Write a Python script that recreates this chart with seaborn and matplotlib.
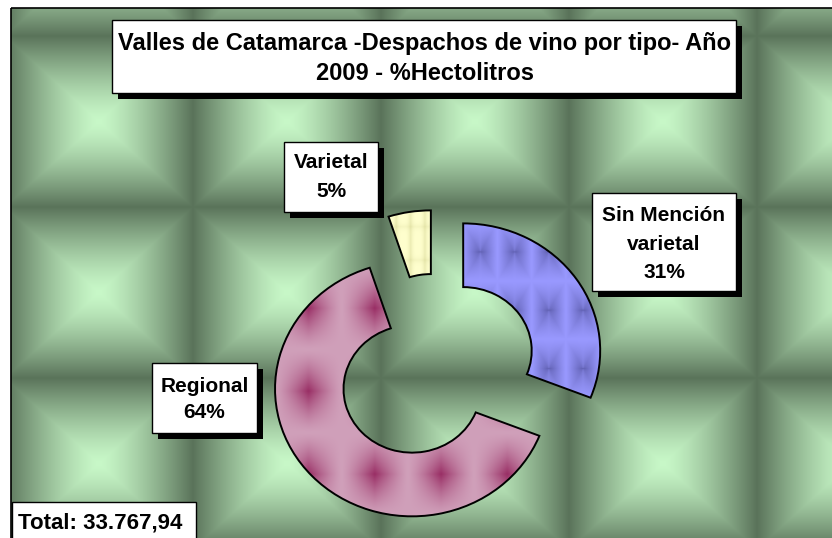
import textwrap
import numpy as np
import pandas as pd
import matplotlib
matplotlib.use("Agg")
import matplotlib.pyplot as plt
import seaborn as sns
from matplotlib.patches import Rectangle, PathPatch

# ---------------- data ----------------
categories = ["Sin Mención varietal", "Regional", "Varietal"]
shares = [31, 64, 5]
title_lines = ["Valles de Catamarca -Despachos de vino por tipo- Año",
               "2009 - %Hectolitros"]
total_label = "Total: 33.767,94"

# ---------------- style ----------------
slice_base = [(153, 153, 255), (208, 160, 186), (255, 255, 206)]
slice_dark = [(92, 92, 172), (150, 40, 96), (222, 222, 160)]
bg_light = np.array([200, 248, 200]) / 255
bg_dark = np.array([90, 115, 90]) / 255

W, H = 832, 538
sns.set_theme(style="white")
plt.rcParams['font.family'] = ['Liberation Sans', 'DejaVu Sans']

df = pd.DataFrame({"cat": categories, "share": shares})

fig = plt.figure(figsize=(W / 100, H / 100), dpi=100)
fig.patch.set_facecolor("white")

# ---------------- background (bottom axes, pixel coords) ----------------
axb = fig.add_axes([0, 0, 1, 1], zorder=0)
axb.axis("off")
yy, xx = np.mgrid[0:H, 0:W] + 0.5
tw, th = 188.0, 171.0
ox, oy = 5.0, 36.0
u = ((xx - ox) % tw) / tw * 2 - 1
v = ((yy - oy) % th) / th * 2 - 1
t = np.maximum(np.abs(u), np.abs(v))
f = (t ** 1.35)[..., None]
img = bg_light + (bg_dark - bg_light) * f
img[(xx < 11) | (yy < 8)] = 1.0
axb.imshow(img, extent=(0, W, H, 0), interpolation="bilinear", aspect="auto")
axb.add_patch(Rectangle((11, 8), W + 20, H + 20, fill=False, ec="black", lw=1.2))
axb.set_xlim(0, W)
axb.set_ylim(H, 0)

# ---------------- pie ----------------
axp = fig.add_axes([0, 0, 1, 1], zorder=1)
axp.patch.set_alpha(0)
R_px, sy = 137.0, 0.93
Cx, Cy = 436.0, 368.0
xlim = (-Cx / R_px, (W - Cx) / R_px)
ylim = (-(H - Cy) / (R_px * sy), Cy / (R_px * sy))

fill_cols = ["#%02x%02x%02x" % c for c in slice_base]
wedges, _ = axp.pie(df["share"], startangle=90, counterclock=False,
                    explode=[0.24] * len(df), radius=1, colors=fill_cols,
                    wedgeprops=dict(width=0.5, edgecolor="none"))


def texture(kind, nx, ny, base, dark, n=300):
    gy, gx = np.mgrid[0:n, 0:n] / n
    uu = (gx * nx % 1) * 2 - 1
    vv = (gy * ny % 1) * 2 - 1
    if kind == "star":
        k = ((1 - np.abs(uu)) * (1 - np.abs(vv))) ** 1.3 * 0.95
    elif kind == "pyr":
        k = (1 - np.maximum(np.abs(uu), np.abs(vv))) ** 1.1
        k = k * (0.45 + 0.55 * np.abs(uu) / (np.abs(uu) + np.abs(vv) + 1e-6))
    else:
        k = 0.6 * (1 - np.abs(uu)) ** 3 + 0.3 * (1 - np.abs(vv)) ** 6
    b = np.array(base) / 255
    d = np.array(dark) / 255
    return b + (d - b) * np.clip(k, 0, 1)[..., None]


tex_spec = [("pyr", 4, 3), ("star", 4, 3), ("stripe", 3, 2)]
for w, (kind, nx, ny), b, d in zip(wedges, tex_spec, slice_base, slice_dark):
    bb = w.get_path().get_extents()
    im = axp.imshow(texture(kind, nx, ny, b, d), extent=(bb.x0, bb.x1, bb.y0, bb.y1),
                    origin="lower", aspect="auto", interpolation="bilinear", zorder=2)
    im.set_clip_path(w)
    axp.add_patch(PathPatch(w.get_path(), fill=False, ec="black", lw=1.4, zorder=3))

axp.set_aspect("auto")
axp.set_xlim(*xlim)
axp.set_ylim(*ylim)
axp.axis("off")

# ---------------- annotation axes (top, pixel coords) ----------------
ax = fig.add_axes([0, 0, 1, 1], zorder=2)
ax.patch.set_alpha(0)
ax.set_xlim(0, W)
ax.set_ylim(H, 0)
ax.axis("off")


def box(x0, y0, x1, y1, shadow=True):
    if shadow:
        ax.add_patch(Rectangle((x0 + 6, y0 + 6), x1 - x0, y1 - y0, fc="black", ec="none", zorder=6))
    ax.add_patch(Rectangle((x0, y0), x1 - x0, y1 - y0, fc="white", ec="black", lw=1.0, zorder=7))


box(112, 20, 736, 93)
for line, yb in zip(title_lines, [50, 80]):
    ax.text(425, yb, line, ha="center", va="baseline", fontsize=17, fontweight="bold",
            color="black", zorder=8)

box(12, 502, 196, 560, shadow=False)
ax.text(100, 528, total_label, ha="center", va="baseline", fontsize=16, fontweight="bold",
        color="black", zorder=8)

label_layout = [
    (592, 193, 736, 291, 221, 28.5),
    (152, 363, 257, 433, 392, 26.5),
    (284, 142, 378, 212, 168, 29),
]
for (cat, val), (x0, y0, x1, y1, yb, ls) in zip(zip(df["cat"], df["share"]), label_layout):
    box(x0, y0, x1, y1)
    lines = textwrap.fill(cat, 11).split("\n") + [f"{val}%"]
    for i, line in enumerate(lines):
        ax.text((x0 + x1) / 2, yb + i * ls, line, ha="center", va="baseline", fontsize=15,
                fontweight="bold", color="black", zorder=8)

fig.savefig("out.png", dpi=100)
